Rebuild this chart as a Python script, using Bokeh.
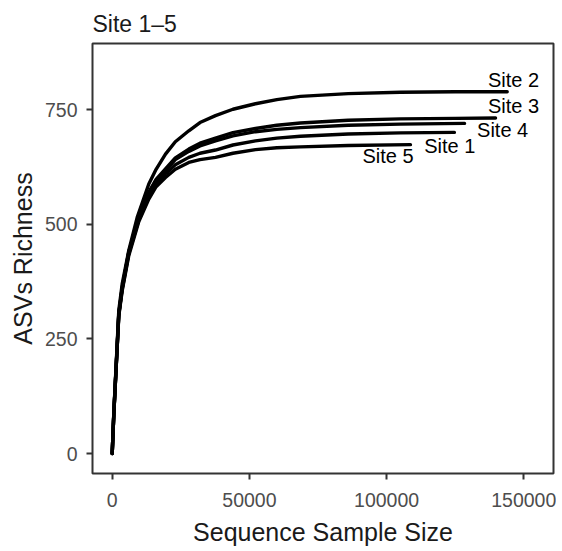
from bokeh.plotting import figure
from bokeh.models import Range1d, FixedTicker, ColumnDataSource, NumeralTickFormatter
from bokeh.core.properties import value
from bokeh.embed import file_html
from bokeh.resources import INLINE

# ---- data ----
site2_x = [0, 580, 2400, 3640, 6050, 9110, 13340, 16000, 19420, 23000, 27920, 32000, 37640, 44000, 52220, 60000, 68600, 86000, 105000, 125000, 143960]
site2_y = [0, 88, 312, 370, 443, 515, 588, 620, 653, 680, 704, 722, 737, 751, 763, 772, 779, 785, 788, 789, 789.2]

site3_x = [0, 580, 2400, 3640, 6050, 9700, 13340, 16000, 19420, 23000, 27920, 32000, 37640, 44000, 52220, 60000, 68600, 86000, 105000, 125000, 139700]
site3_y = [0, 86, 305, 362, 440, 515, 570, 598, 621, 645, 664, 677, 688, 700, 709, 716, 721, 727, 730, 731, 732]

site4_x = [0, 580, 2400, 3640, 6050, 9700, 13340, 16000, 19420, 23000, 27920, 32000, 37640, 44000, 52220, 60000, 68600, 86000, 105000, 128400]
site4_y = [0, 86, 304, 361, 439, 513, 567, 595, 617, 641, 659, 671, 682, 693, 702, 707, 711, 716, 718.5, 720.2]

site1_x = [0, 580, 2400, 3640, 6050, 9700, 13340, 16000, 19420, 23000, 27920, 32000, 37640, 44000, 52220, 60000, 68600, 86000, 105000, 124700]
site1_y = [0, 85, 302, 358, 436, 510, 560, 588, 610, 630, 646, 655, 662, 673, 682, 688, 692, 697, 699.5, 700.5]

site5_x = [0, 580, 2400, 3640, 6050, 9700, 13340, 16000, 19420, 23000, 27920, 32000, 37640, 44000, 52220, 60000, 68600, 86000, 108700]
site5_y = [0, 85, 300, 355, 432, 506, 555, 582, 602, 620, 635, 641, 646, 655, 663, 667, 669, 672, 673.7]

label_text = ["Site 2", "Site 3", "Site 4", "Site 1", "Site 5"]
label_x = [146240, 146240, 142300, 123000, 100500]
label_y = [815, 759, 706, 671, 648]

x_ticks = [0, 50000, 100000, 150000]
y_ticks = [0, 250, 500, 750]

x_title = "Sequence Sample Size"
y_title = "ASVs Richness"

FONT = "Liberation Sans"

p = figure(width=556, height=548, output_backend="svg", toolbar_location=None,
           x_range=Range1d(-7180, 160830), y_range=Range1d(-43.6, 894.4),
           min_border_left=92, min_border_right=3, min_border_top=43, min_border_bottom=75,
           title="Site 1\u20135")

p.title.text_font = FONT
p.title.text_font_size = "23px"
p.title.text_font_style = "normal"
p.title.text_color = "#1a1a1a"
p.title.align = "left"
p.title.offset = 0
p.title.standoff = 13

p.grid.visible = False
p.outline_line_color = "#333333"
p.outline_line_width = 2
p.background_fill_color = "white"
p.border_fill_color = "white"

for ax in (p.xaxis[0], p.yaxis[0]):
    ax.axis_line_color = None
    ax.major_tick_line_color = "#333333"
    ax.major_tick_line_width = 2
    ax.major_tick_out = 6
    ax.major_tick_in = 0
    ax.minor_tick_line_color = None
    ax.major_label_text_font = FONT
    ax.major_label_text_font_size = "19.5px"
    ax.major_label_text_color = "#4d4d4d"
    ax.axis_label_text_font = FONT
    ax.axis_label_text_font_size = "25px"
    ax.axis_label_text_font_style = "normal"
    ax.axis_label_text_color = "#1a1a1a"
    ax.formatter = NumeralTickFormatter(format="0")

p.xaxis.ticker = FixedTicker(ticks=x_ticks)
p.yaxis.ticker = FixedTicker(ticks=y_ticks)
p.xaxis.axis_label = x_title
p.yaxis.axis_label = y_title
p.xaxis.major_label_standoff = 13
p.xaxis.axis_label_standoff = 8
p.yaxis.major_label_standoff = 9
p.yaxis.axis_label_standoff = 5

for xs, ys in [(site5_x, site5_y), (site1_x, site1_y), (site4_x, site4_y),
               (site3_x, site3_y), (site2_x, site2_y)]:
    p.line(xs, ys, line_color="black", line_width=3.4, line_join="round", line_cap="round")

src = ColumnDataSource(dict(x=label_x, y=label_y, t=label_text))
p.text(x="x", y="y", text="t", source=src, text_font=value(FONT), text_font_size="20px",
       text_align="center", text_baseline="middle", text_color="black")

open("out.html", "w").write(file_html(p, INLINE))
